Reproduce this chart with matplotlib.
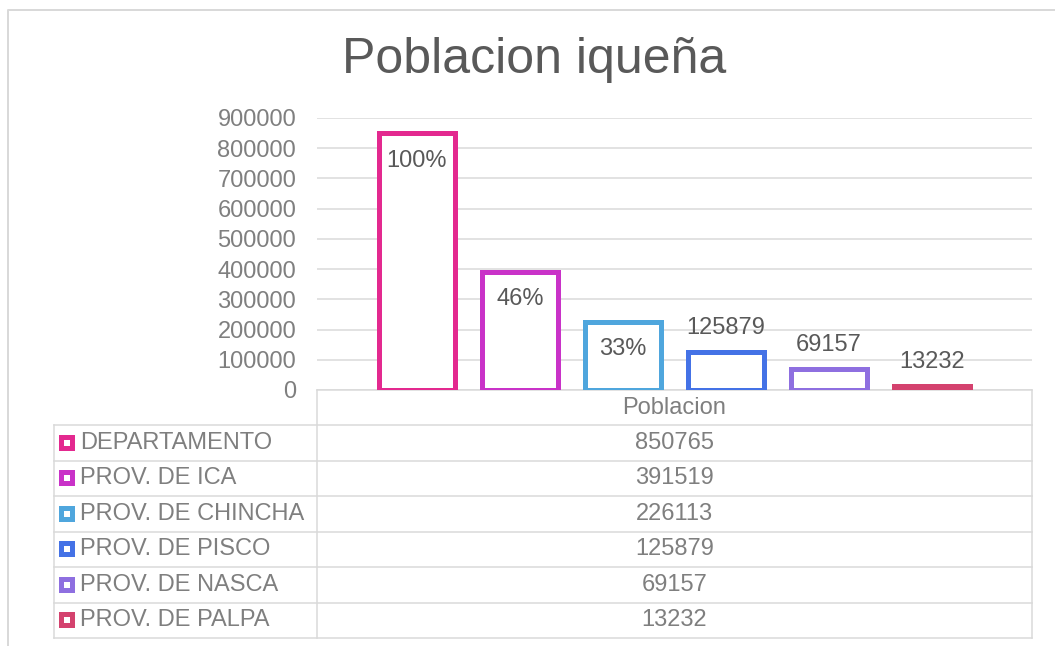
import numpy as np
import matplotlib.pyplot as plt
from matplotlib.patches import Rectangle

plt.rcParams['font.family'] = ['Liberation Sans', 'DejaVu Sans']

# data
categories = ['DEPARTAMENTO', 'PROV. DE ICA', 'PROV. DE CHINCHA',
              'PROV. DE PISCO', 'PROV. DE NASCA', 'PROV. DE PALPA']
poblacion = [850765, 391519, 226113, 125879, 69157, 13232]
bar_labels = ['100%', '46%', '33%', '125879', '69157', '13232']
label_inside = [True, True, True, False, False, False]
colors = ['#E3298F', '#C932C8', '#4FA6DD', '#4472E6', '#8E6FE0', '#D4426E']
group_name = 'Poblacion'
title = 'Poblacion iqueña'

W, H = 1055, 646
grid_c = '#D9D9D9'
text_c = '#7F7F7F'
dark_c = '#595959'
fs = 17


def fx(px):
    return px / W


def fy(py):
    return 1 - py / H


fig = plt.figure(figsize=(W / 100, H / 100), dpi=100)

# pixel-space background axes for frame and table
bg = fig.add_axes([0, 0, 1, 1], zorder=0)
bg.set_xlim(0, W)
bg.set_ylim(H, 0)
bg.axis('off')

lw_px = 1.5 * 72 / 100
bg.plot([8, 8, W], [H, 10, 10], color=grid_c, lw=2 * 72 / 100)

# chart axes
x0, x1, ytop, ybot = 317, 1032, 118, 390
ax = fig.add_axes([fx(x0), fy(ybot), fx(x1 - x0), (ybot - ytop) / H], zorder=1)
ax.patch.set_alpha(0)
ax.set_ylim(0, 900000)
ax.set_xlim(-0.97, 5.97)
ax.set_yticks(np.arange(0, 900001, 100000))
ax.yaxis.grid(True, color=grid_c, lw=lw_px)
ax.set_axisbelow(True)
for s in ax.spines.values():
    s.set_visible(False)
ax.set_xticks([])
ax.tick_params(axis='y', length=0, pad=15, labelsize=fs, labelcolor=text_c)

x = np.arange(len(poblacion))
ax.bar(x, poblacion, width=0.74, color='white', edgecolor=colors, linewidth=5 * 72 / 100)

for xi, v, lab, inside in zip(x, poblacion, bar_labels, label_inside):
    dy = -20 if inside else 17
    ax.annotate(lab, xy=(xi, v), xytext=(0, dy), textcoords='offset points',
                ha='center', va='center', fontsize=fs, color=dark_c)

fig.text(fx(534), fy(60), title, ha='center', va='center', fontsize=36, color=dark_c)

# data table
tl = 54
row_top = 425
row_h = 35.5
n = len(categories)
tb = row_top + n * row_h
# header row
bg.plot([x0, x0], [ybot, tb], color=grid_c, lw=lw_px)
bg.plot([x1, x1], [ybot, tb], color=grid_c, lw=lw_px)
bg.plot([x0, x1], [ybot, ybot], color=grid_c, lw=lw_px)
bg.text((x0 + x1) / 2, (ybot + row_top) / 2, group_name, ha='center', va='center',
        fontsize=fs, color=text_c)
bg.plot([tl, tl], [row_top, tb], color=grid_c, lw=lw_px)
for i in range(n + 1):
    yy = row_top + i * row_h
    bg.plot([tl, x1], [yy, yy], color=grid_c, lw=lw_px)

for i, (cat, v, c) in enumerate(zip(categories, poblacion, colors)):
    yc = row_top + (i + 0.5) * row_h
    bg.add_patch(Rectangle((59, yc - 8), 16, 16, facecolor=c, edgecolor='none'))
    bg.add_patch(Rectangle((64, yc - 3), 6, 6, facecolor='white', edgecolor='none'))
    bg.text(80, yc, cat, ha='left', va='center', fontsize=fs, color=text_c)
    bg.text((x0 + x1) / 2, yc, str(v), ha='center', va='center', fontsize=fs, color=text_c)

fig.savefig('out.png', dpi=100)
